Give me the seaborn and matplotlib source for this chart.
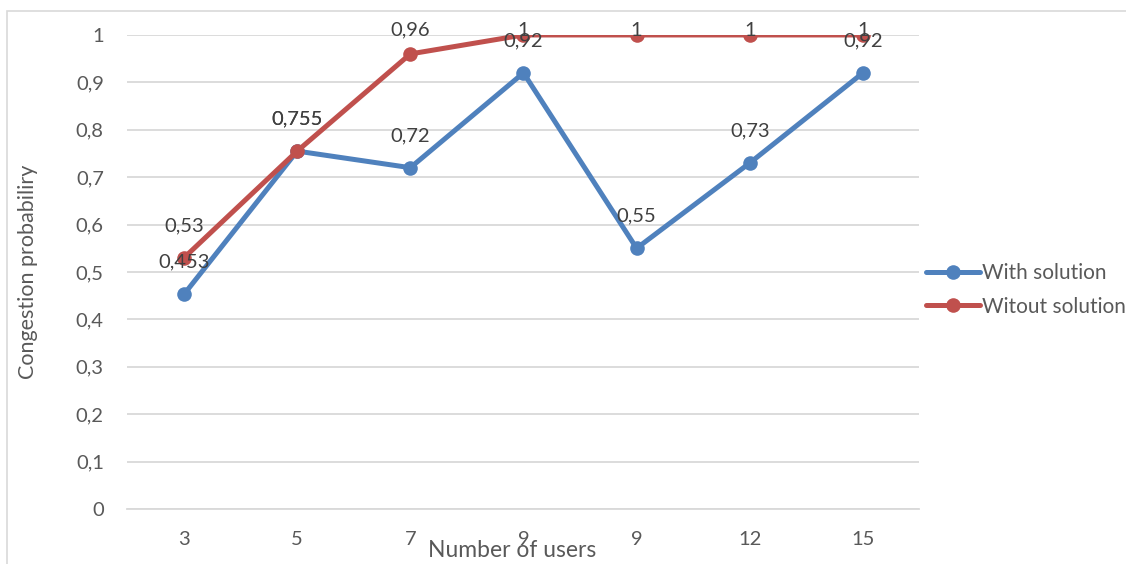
import numpy as np
import pandas as pd
import seaborn as sns
import matplotlib.pyplot as plt
from matplotlib.patches import Rectangle

users = ["3", "5", "7", "9", "9", "12", "15"]
with_solution = [0.453, 0.755, 0.72, 0.92, 0.55, 0.73, 0.92]
without_solution = [0.53, 0.755, 0.96, 1, 1, 1, 1]
series_names = ["With solution", "Witout solution"]
colors = ["#4F81BD", "#C0504D"]

sns.set_style("white")
plt.rcParams['font.family'] = ['Lato', 'DejaVu Sans']

pos = np.arange(len(users))
df = pd.DataFrame({
    "pos": np.concatenate([pos, pos]),
    "value": with_solution + without_solution,
    "series": [series_names[0]] * len(users) + [series_names[1]] * len(users),
})

fig = plt.figure(figsize=(11.26, 5.64), dpi=100)
ax = fig.add_axes([0.1132, 0.0975, 0.7034, 0.8405])

sns.lineplot(data=df, x="pos", y="value", hue="series", palette=colors,
             marker="o", markersize=10.5, markeredgewidth=0, linewidth=3.6,
             sort=False, ax=ax, legend=True)

# data labels above each point, kept inside the chart area like Excel does
for vals in [with_solution, without_solution]:
    for x, v in zip(pos, vals):
        lab = ("%g" % v).replace(".", ",")
        ly = min(v + 0.0675, 1.01)
        ax.text(x, ly, lab, ha="center", va="center", fontsize=14.5,
                color="#404040", clip_on=False)

ax.set_xlim(-0.5, len(users) - 0.5)
ax.set_ylim(0, 1)
ticks = np.round(np.arange(0, 1.01, 0.1), 1)
ax.set_yticks(ticks)
ax.set_yticklabels([("%g" % t).replace(".", ",") for t in ticks])
ax.set_xticks(pos)
ax.set_xticklabels(users)
ax.tick_params(axis="both", length=0, labelsize=14.5, labelcolor="#595959")
ax.tick_params(axis="x", pad=16)
ax.tick_params(axis="y", pad=17)
ax.grid(axis="y", color="#D9D9D9", linewidth=1.3)
for s in ["top", "right", "left"]:
    ax.spines[s].set_visible(False)
ax.spines["bottom"].set_color("#D9D9D9")
ax.spines["bottom"].set_linewidth(1.3)

ax.set_xlabel("Number of users", fontsize=16.5, color="#595959")
ax.xaxis.label.set_va("center")
ax.xaxis.set_label_coords(0.4855, -0.0865)
ax.set_ylabel("Congestion probabiliry", fontsize=15.5, color="#595959")
ax.yaxis.label.set_va("center")
ax.yaxis.set_label_coords(-0.126, 0.5)

leg = ax.legend(loc="center left", bbox_to_anchor=(0.984, 0.462), frameon=False,
                fontsize=15, handlelength=2.6, handletextpad=0.1, labelspacing=0.65,
                labelcolor="#595959")

# chart border
fig.patches.append(Rectangle((0.006, -0.01), 1.0, 0.99, transform=fig.transFigure,
                             fill=False, edgecolor="#D9D9D9", linewidth=1.2))

fig.savefig("out.png", dpi=100)
